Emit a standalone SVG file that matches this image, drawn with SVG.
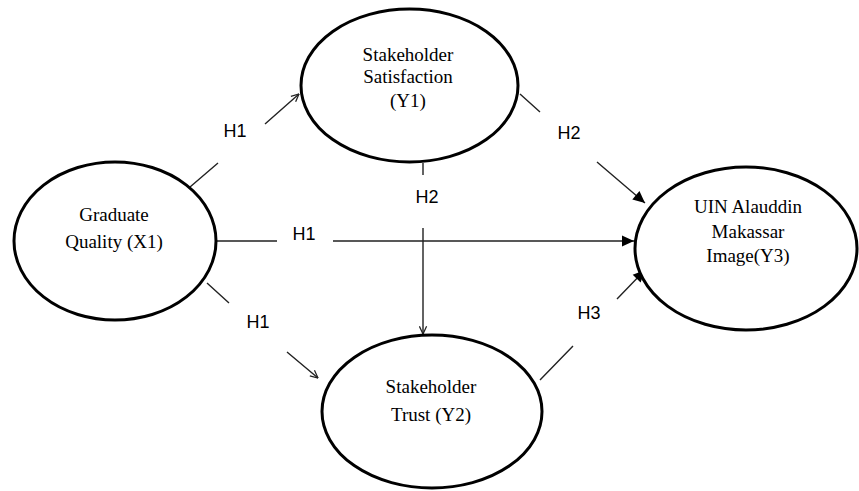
<svg xmlns="http://www.w3.org/2000/svg" width="859" height="491" viewBox="0 0 859 491">
<style>
.node ellipse{fill:#fff;stroke:#000;stroke-width:3}
.node text{font-family:"Liberation Serif","Times New Roman",serif;font-size:19px;fill:#000;text-anchor:middle}
.lbl{font-family:"Liberation Sans",Arial,sans-serif;font-size:18px;fill:#000;text-anchor:middle}
.c{fill:none;stroke:#222;stroke-width:1.4}
</style>
<defs>
<marker id="open" viewBox="0 0 10 10" refX="9.5" refY="5" markerWidth="9" markerHeight="9" markerUnits="userSpaceOnUse" orient="auto">
<path d="M1,1 L9.5,5 L1,9" fill="none" stroke="#222" stroke-width="1.4"/>
</marker>
<marker id="fill" viewBox="0 0 12 12" refX="12" refY="6" markerWidth="13" markerHeight="12" markerUnits="userSpaceOnUse" orient="auto">
<path d="M0,0.5 L12,6 L0,11.5 Z" fill="#000"/>
</marker>
</defs>
<g id="connectors">
<path class="c" d="M190,187 L218,163 M265,124 L299,94" marker-end="url(#open)"/>
<path class="c" d="M207,283 L229,303 M287,352 L318,378" marker-end="url(#open)"/>
<path class="c" d="M217,241 L277,241 M333,241 L634,241" marker-end="url(#fill)"/>
<path class="c" d="M423,163 L423,175 M423,228 L423,334" marker-end="url(#open)"/>
<path class="c" d="M520,94 L540,112 M597,162 L645,203" marker-end="url(#fill)"/>
<path class="c" d="M540,380 L573,346 M617,299 L645,270" marker-end="url(#fill)"/>
<text class="lbl" x="235" y="137">H1</text>
<text class="lbl" x="258" y="328">H1</text>
<text class="lbl" x="304" y="240">H1</text>
<text class="lbl" x="427" y="203">H2</text>
<text class="lbl" x="569" y="139">H2</text>
<text class="lbl" x="589" y="319">H3</text>
</g>
<g id="x1" class="node">
<ellipse cx="115" cy="241" rx="101" ry="79"/>
<text x="114" y="221">Graduate</text>
<text x="114" y="248">Quality (X1)</text>
</g>
<g id="y1" class="node">
<ellipse cx="409.5" cy="85.5" rx="108.5" ry="76.5"/>
<text x="408" y="61">Stakeholder</text>
<text x="408" y="83">Satisfaction</text>
<text x="408" y="107">(Y1)</text>
</g>
<g id="y2" class="node">
<ellipse cx="432" cy="411.5" rx="110" ry="76.5"/>
<text x="431" y="393">Stakeholder</text>
<text x="431" y="421">Trust (Y2)</text>
</g>
<g id="y3" class="node">
<ellipse cx="746" cy="248.5" rx="111" ry="81.5"/>
<text x="748" y="213">UIN Alauddin</text>
<text x="748" y="238">Makassar</text>
<text x="748" y="262">Image(Y3)</text>
</g>
</svg>
